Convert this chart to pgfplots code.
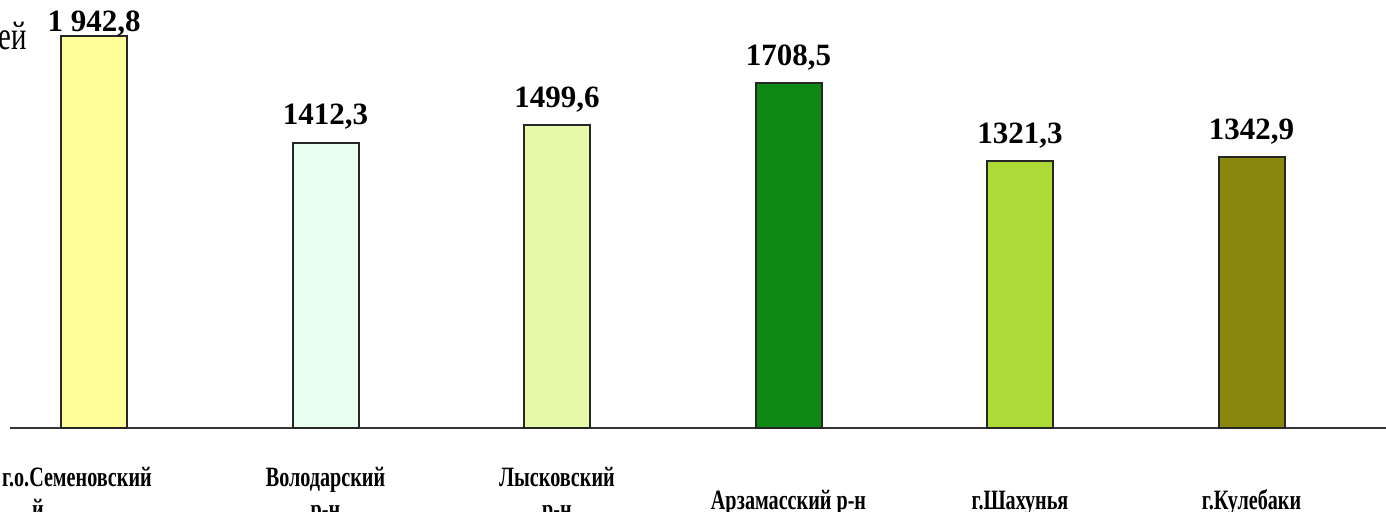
\documentclass[border=0pt]{standalone}
\usepackage{fontspec}
\setmainfont{Liberation Serif}
\newfontfamily\condfont{Liberation Serif}[FakeStretch=0.72]
\usepackage{pgfplots}
\pgfplotsset{compat=1.18}
\definecolor{cA}{HTML}{FFFF99}
\definecolor{cB}{HTML}{E8FFF0}
\definecolor{cC}{HTML}{E6F8AA}
\definecolor{cD}{HTML}{0E8A14}
\definecolor{cE}{HTML}{ADDA36}
\definecolor{cF}{HTML}{8A880C}
\newcommand{\twol}[2]{\begin{tabular}[t]{@{}c@{}}#1\\#2\end{tabular}}
\newcommand{\onel}[1]{\raisebox{-11.5pt}{#1}}
\begin{document}
\begin{tikzpicture}
\begin{axis}[
  at={(0,0)}, anchor=south west,
  scale only axis, width=688pt, height=214pt,
  xmin=-0.3629, xmax=5.581, ymin=0, ymax=2121,
  axis x line=bottom, axis y line=none,
  x axis line style={-, line width=1pt, draw=black!80},
  xtick={0,1,2,3,4,5},
  xticklabels={
    {\hspace*{-17pt}\begin{tabular}[t]{@{}l@{}}г.о.Семеновский\\\hspace*{15pt}й\end{tabular}},
    {\twol{Володарский}{р-н}},
    {\twol{Лысковский}{р-н}},
    {\onel{Арзамасский р-н}},
    {\onel{г.Шахунья}},
    {\onel{г.Кулебаки}}},
  major tick length=0pt,
  xticklabel style={anchor=base, yshift=-29.5pt, inner sep=0pt,
    font={\fontsize{14}{16}\condfont\bfseries}},
  clip=false,
  every axis plot/.append style={ybar, bar width=33pt, bar shift=0pt, draw=black!85, line width=1pt},
]
\addplot[fill=cA] coordinates {(0,1942.8)};
\addplot[fill=cB] coordinates {(1,1412.3)};
\addplot[fill=cC] coordinates {(2,1499.6)};
\addplot[fill=cD] coordinates {(3,1708.5)};
\addplot[fill=cE] coordinates {(4,1321.3)};
\addplot[fill=cF] coordinates {(5,1342.9)};
\begin{scope}[every node/.style={anchor=base, inner sep=0pt, font={\fontsize{15.5}{18}\selectfont\bfseries}}]
\node[yshift=2pt] at (axis cs:0,1942.8) {1 942,8};
\node[yshift=9pt] at (axis cs:1,1412.3) {1412,3};
\node[yshift=9pt] at (axis cs:2,1499.6) {1499,6};
\node[yshift=9pt] at (axis cs:3,1708.5) {1708,5};
\node[yshift=9pt] at (axis cs:4,1321.3) {1321,3};
\node[yshift=9pt] at (axis cs:5,1342.9) {1342,9};
\end{scope}
\end{axis}
\node[anchor=base east, inner sep=0pt, font={\fontsize{20}{24}\condfont}] at (8.5pt,189pt) {ей};
\pgfresetboundingbox
\useasboundingbox (-5pt,-42pt) rectangle (688pt,214pt);
\end{tikzpicture}
\end{document}
